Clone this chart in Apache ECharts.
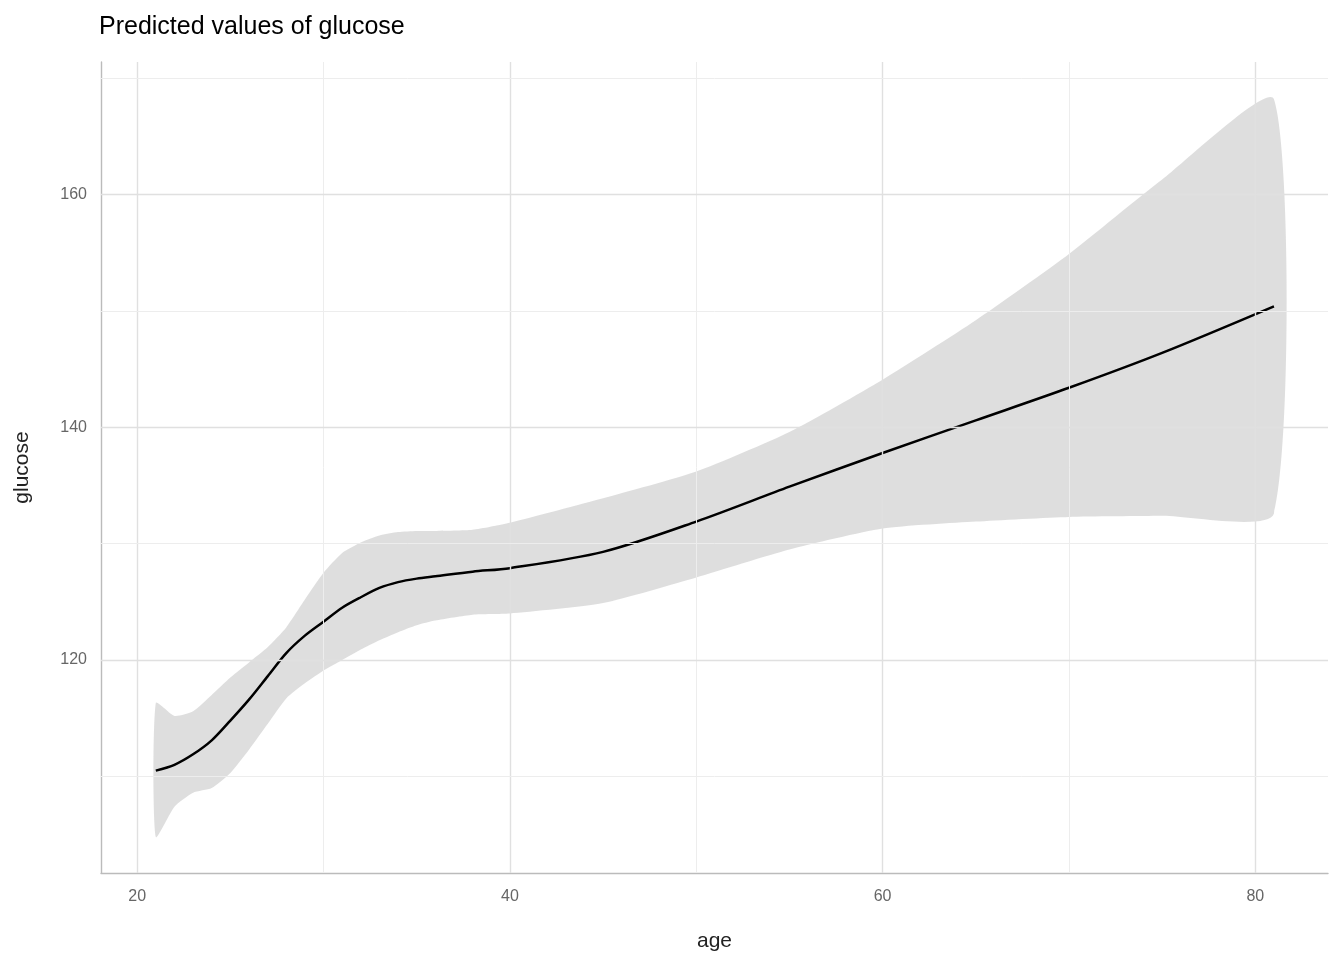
<!DOCTYPE html>
<html>
<head>
<meta charset="utf-8">
<title>Predicted values of glucose</title>
<script src="https://cdn.jsdelivr.net/npm/echarts@6/dist/echarts.min.js"></script>
<style>html,body{margin:0;background:#fff}#chart{width:1344px;height:960px}</style>
</head>
<body>
<div id="chart"></div>
<script>
// data
var ages =      [21, 22, 23, 24, 25, 26, 27, 28, 29, 30, 31, 32, 33, 34, 35, 36, 38, 40, 45, 50, 55, 60, 65, 70, 75, 81];
var predicted = [110.5, 111.0, 111.9, 113.1, 114.8, 116.6, 118.6, 120.6, 122.1, 123.3, 124.5, 125.4, 126.2, 126.7, 127.0, 127.2, 127.6, 127.9, 129.3, 131.9, 134.9, 137.8, 140.6, 143.4, 146.4, 150.4];
var upper =     [116.3, 115.2, 115.6, 117.0, 118.5, 119.8, 121.1, 122.8, 125.2, 127.5, 129.2, 130.1, 130.7, 131.0, 131.1, 131.1, 131.2, 131.8, 133.9, 136.2, 139.6, 144.1, 149.2, 154.9, 161.3, 168.2];
var lower =     [104.8, 107.4, 108.6, 109.0, 110.3, 112.3, 114.5, 116.7, 118.0, 119.1, 120.0, 120.9, 121.7, 122.4, 123.0, 123.4, 123.9, 124.0, 124.9, 127.1, 129.5, 131.3, 131.9, 132.3, 132.4, 132.6];
var xMajor = [20, 40, 60, 80], xMinor = [30, 50, 70];
var yMajor = [120, 140, 160], yMinor = [110, 130, 150, 170];

var chart = echarts.init(document.getElementById('chart'));
function pairs(ys) { return ages.map(function (a, i) { return [a, ys[i]]; }); }
var gridLines = [];
xMajor.forEach(function (v) { gridLines.push({ xAxis: v, lineStyle: { color: '#e0e0e0', width: 1.4, type: 'solid' } }); });
xMinor.forEach(function (v) { gridLines.push({ xAxis: v, lineStyle: { color: '#ededed', width: 1, type: 'solid' } }); });
yMajor.forEach(function (v) { gridLines.push({ yAxis: v, lineStyle: { color: '#e0e0e0', width: 1.4, type: 'solid' } }); });
yMinor.forEach(function (v) { gridLines.push({ yAxis: v, lineStyle: { color: '#ededed', width: 1, type: 'solid' } }); });

var fontF = 'Liberation Sans';
chart.setOption({
    animation: false,
    title: { text: 'Predicted values of glucose', left: 94, top: 10,
        textStyle: { fontFamily: fontF, fontWeight: 'normal', fontSize: 25, color: '#000' } },
    grid: { left: 101, right: 16, top: 62, bottom: 87 },
    xAxis: {
        type: 'value', min: 18.06, max: 83.9,
        name: 'age', nameLocation: 'middle', nameGap: 58,
        nameTextStyle: { fontFamily: fontF, fontSize: 21, color: '#222' },
        axisLine: { show: true, lineStyle: { color: '#bbb', width: 1.4 } },
        axisTick: { show: false }, splitLine: { show: false },
        axisLabel: { customValues: xMajor, fontFamily: fontF, fontSize: 16, color: '#666', margin: 16 }
    },
    yAxis: {
        type: 'value', min: 101.7, max: 171.4,
        name: 'glucose', nameLocation: 'middle', nameGap: 68,
        nameTextStyle: { fontFamily: fontF, fontSize: 21, color: '#222' },
        axisLine: { show: true, lineStyle: { color: '#bbb', width: 1.4 } },
        axisTick: { show: false }, splitLine: { show: false },
        axisLabel: { customValues: yMajor, fontFamily: fontF, fontSize: 16, color: '#666', margin: 14 }
    },
    series: [
        { type: 'line', data: [], z: 0,
          markLine: { silent: true, symbol: 'none', label: { show: false }, data: gridLines } },
        { type: 'custom', data: [0], z: 1,
          renderItem: function (params, api) {
              var pts = [];
              for (var i = 0; i < ages.length; i++) pts.push(api.coord([ages[i], upper[i]]));
              for (var j = ages.length - 1; j >= 0; j--) pts.push(api.coord([ages[j], lower[j]]));
              return { type: 'polygon', shape: { points: pts, smooth: 0.2 },
                       style: { fill: 'rgba(160,160,160,0.35)' } };
          } },
        { type: 'line', data: pairs(predicted), symbol: 'none', smooth: 0.3, z: 2,
          lineStyle: { color: '#000', width: 2.5 } }
    ]
});
</script>
</body>
</html>
